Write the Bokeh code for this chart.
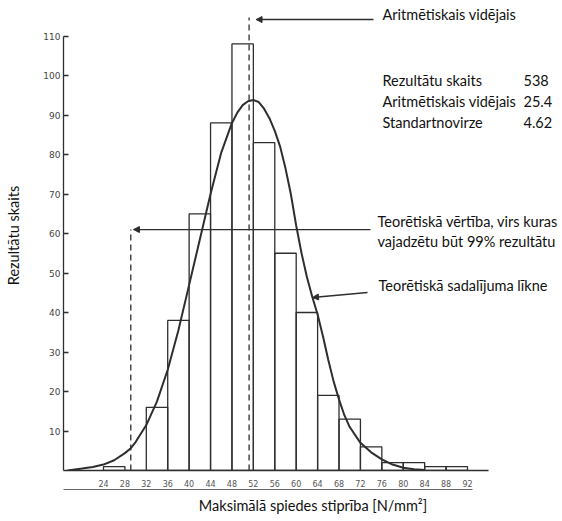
from bokeh.plotting import figure
from bokeh.models import Range1d, FixedTicker, LinearAxis, Label, Arrow, NormalHead
from bokeh.embed import file_html
from bokeh.resources import INLINE

# ---------------- data ----------------
bin_edges = [24, 28, 32, 36, 40, 44, 48, 52, 56, 60, 64, 68, 72, 76, 80, 84, 88, 92]
counts = [1, 0, 16, 38, 65, 88, 108, 83, 55, 40, 19, 13, 6, 2, 2, 1, 1]
x_tick_labels = ["24", "28", "32", "36", "40", "44", "48", "52", "56", "60",
                 "64", "68", "72", "76", "80", "84", "88", "92"]
y_ticks = [10, 20, 30, 40, 50, 60, 70, 80, 90, 100, 110]

curve_x = [17.3, 20, 22, 24, 26, 28, 29, 30, 32, 34, 36, 38, 40, 42, 44, 46, 48, 49, 50,
           51, 52, 53, 54, 55, 56, 57, 58, 59, 60, 61, 62, 63, 64, 65, 66, 67, 68, 69,
           70, 72, 74, 76, 78, 80, 82, 84]
curve_y = [0, 0.5, 0.9, 1.5, 2.6, 4.4, 5.5, 7.2, 11.5, 17.5, 25.5, 35.5, 47, 58.5, 70, 80.5,
           88, 90.6, 92.5, 93.5, 93.8, 93.3, 91.6, 89.2, 86, 82, 76.5, 70, 62, 55, 49, 44,
           39.5, 34, 28, 22.5, 18, 14, 11, 7, 4.6, 2.8, 1.5, 0.7, 0.3, 0.1]

mean_x = 51.2          # arithmetic mean (dashed line)
p99_x = 29.1           # value above which 99 % of results should lie
p99_y = 61             # height of its pointer line

stat_names = ["Rezultātu skaits", "Aritmētiskais vidējais", "Standartnovirze"]
stat_values = ["538", "25.4", "4.62"]

# ---------------- layout helpers ----------------
X0, X1 = 16.53, 109.75
Y1 = 119.0
PXL, PXS, PYB, PYS = 63, 5.353, 470, 3.95


def X(px):
    return X0 + (px - PXL) / PXS


def Y(py):
    return (PYB - py) / PYS


INK = "#2e2e2e"
FONT = "Lato"
FS = "14.5px"

p = figure(width=562, height=521, output_backend="svg", toolbar_location=None,
           x_range=Range1d(X0, X1), y_range=Range1d(0, Y1),
           min_border_left=63, min_border_right=0, min_border_top=0, min_border_bottom=51)
p.grid.visible = False
p.outline_line_color = None
p.background_fill_color = "white"
p.border_fill_color = "white"

# histogram bars
p.quad(left=bin_edges[:-1], right=bin_edges[1:], top=counts, bottom=0,
       fill_color=None, line_color=INK, line_width=1.3)

# theoretical distribution curve
p.line(curve_x, curve_y, line_color=INK, line_width=2)

# mean dashed line
p.line([mean_x, mean_x], [0, Y(17)], line_color=INK, line_width=1.3, line_dash="6 4")
# 99 % dashed line
p.line([p99_x, p99_x], [0, p99_y], line_color=INK, line_width=1.3, line_dash="6 4")

# pointer arrows
for xs, ys, xe, ye in [(X(373), Y(19), mean_x + 1.3, Y(19)),
                       (X(370), p99_y, p99_x + 0.5, p99_y),
                       (X(367), Y(292), X(312), Y(297))]:
    p.add_layout(Arrow(x_start=xs, y_start=ys, x_end=xe, y_end=ye,
                       line_color=INK, line_width=1.4,
                       end=NormalHead(size=6, fill_color=INK, line_color=INK, line_width=1)))


# texts
def lab(px, py, text):
    p.add_layout(Label(x=X(px), y=Y(py), text=text, text_font=FONT, text_font_size=FS,
                       text_baseline="middle", text_align="left", text_color="#111111"))


lab(382, 14, "Aritmētiskais vidējais")
for i, (n, v) in enumerate(zip(stat_names, stat_values)):
    lab(382, 80 + 21 * i, n)
    lab(523, 80 + 21 * i, v)
lab(377, 221, "Teorētiskā vērtība, virs kuras")
lab(377, 241, "vajadzētu būt 99% rezultātu")
lab(378, 285, "Teorētiskā sadalījuma līkne")

# x axis (baseline with handwritten-like tick labels)
xa = p.xaxis[0]
xa.ticker = FixedTicker(ticks=bin_edges)
xa.major_label_overrides = {t: s for t, s in zip(bin_edges, x_tick_labels)}
xa.bounds = (X0, X(488))
xa.major_tick_in = 0
xa.major_tick_out = 0
xa.minor_tick_line_color = None
xa.major_label_standoff = 9
xa.major_label_text_font = "DejaVu Sans"
xa.major_label_text_font_size = "8px"
xa.major_label_text_color = "#555555"
xa.axis_line_color = INK
xa.axis_line_width = 1.3

# second axis: the writing line under the tick labels + axis title
xb = LinearAxis(ticker=FixedTicker(ticks=[]), bounds=(X0, X(472)),
                axis_label="Maksimālā spiedes stiprība [N/mm²]")
xb.major_tick_in = 0
xb.major_tick_out = 0
xb.minor_tick_line_color = None
xb.major_label_text_font_size = "0px"
xb.axis_line_color = "#666666"
xb.axis_line_width = 1
xb.axis_label_standoff = 7
xb.axis_label_text_font = FONT
xb.axis_label_text_font_size = FS
xb.axis_label_text_font_style = "normal"
xb.axis_label_text_color = "#111111"
p.add_layout(xb, "below")

# y axis
ya = p.yaxis[0]
ya.ticker = FixedTicker(ticks=y_ticks)
ya.bounds = (0, 110)
ya.major_tick_in = 5
ya.major_tick_out = 0
ya.minor_tick_line_color = None
ya.major_tick_line_color = INK
ya.major_tick_line_width = 1.3
ya.axis_line_color = INK
ya.axis_line_width = 1.3
ya.major_label_standoff = 3
ya.major_label_text_font = "DejaVu Sans"
ya.major_label_text_font_size = "9px"
ya.major_label_text_color = "#444444"
ya.axis_label = "Rezultātu skaits"
ya.axis_label_standoff = 18
ya.axis_label_text_font = FONT
ya.axis_label_text_font_size = FS
ya.axis_label_text_font_style = "normal"
ya.axis_label_text_color = "#111111"

open("out.html", "w").write(file_html(p, INLINE))
